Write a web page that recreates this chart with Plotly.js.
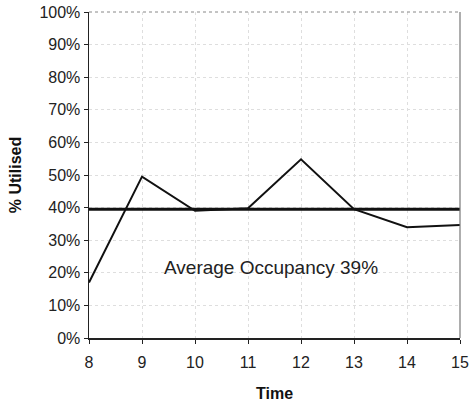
<!DOCTYPE html>
<html>
<head>
<meta charset="utf-8">
<script src="https://cdn.plot.ly/plotly-3.0.1.min.js"></script>
<style>html,body{margin:0;padding:0;background:#fff;}#chart{width:472px;height:405px;}</style>
</head>
<body>
<div id="chart"></div>
<script>
const times = [8, 9, 10, 11, 12, 13, 14, 15];
const utilised = [0.17, 0.495, 0.39, 0.398, 0.548, 0.395, 0.34, 0.347];
const averageOccupancy = 0.395;
const averageLabel = "Average Occupancy 39%";
const yTickVals = [0, 0.1, 0.2, 0.3, 0.4, 0.5, 0.6, 0.7, 0.8, 0.9, 1.0];

const traces = [
  {
    x: times, y: utilised, type: 'scatter', mode: 'lines',
    line: {color: '#111', width: 2}, hoverinfo: 'skip', showlegend: false
  },
  {
    x: [times[0], times[times.length - 1]], y: [averageOccupancy, averageOccupancy],
    type: 'scatter', mode: 'lines',
    line: {color: '#111', width: 3.2}, hoverinfo: 'skip', showlegend: false
  }
];

const layout = {
  width: 472, height: 405,
  margin: {l: 89, r: 12, t: 12, b: 67},
  paper_bgcolor: '#fff', plot_bgcolor: '#fff',
  font: {family: 'Liberation Sans, Arial, sans-serif', size: 16, color: '#222'},
  xaxis: {
    range: [8, 15], tickvals: times, ticktext: times.map(String),
    showgrid: true, gridcolor: '#dedede', griddash: 'dot', gridwidth: 1,
    showline: true, linecolor: '#222', linewidth: 1.5,
    ticks: 'outside', ticklen: 4, tickcolor: '#222',
    tickfont: {size: 16}, ticklabelstandoff: 5,
    zeroline: false,
    title: {text: 'Time', font: {size: 16, color: '#111', weight: 'bold'}, standoff: 18}
  },
  yaxis: {
    range: [0, 1], tickvals: yTickVals, tickformat: '.0%',
    showgrid: true, gridcolor: '#dedede', griddash: 'dot', gridwidth: 1,
    showline: true, linecolor: '#222', linewidth: 1.5,
    ticks: 'outside', ticklen: 4, tickcolor: '#222',
    tickfont: {size: 16},
    zeroline: false,
    title: {text: '% Utilised', font: {size: 16, color: '#111', weight: 'bold'}, standoff: 14}
  },
  shapes: [
    {type: 'line', xref: 'paper', yref: 'paper', x0: 0, x1: 1, y0: 1, y1: 1,
     line: {color: '#888', width: 1, dash: 'dot'}},
    {type: 'line', xref: 'paper', yref: 'paper', x0: 1, x1: 1, y0: 0, y1: 1,
     line: {color: '#777', width: 1.2}}
  ],
  annotations: [
    {x: 11.44, y: 0.215, xref: 'x', yref: 'y', text: averageLabel, showarrow: false,
     font: {size: 19, color: '#222'}}
  ]
};

Plotly.newPlot('chart', traces, layout, {displayModeBar: false, staticPlot: true});
</script>
</body>
</html>
